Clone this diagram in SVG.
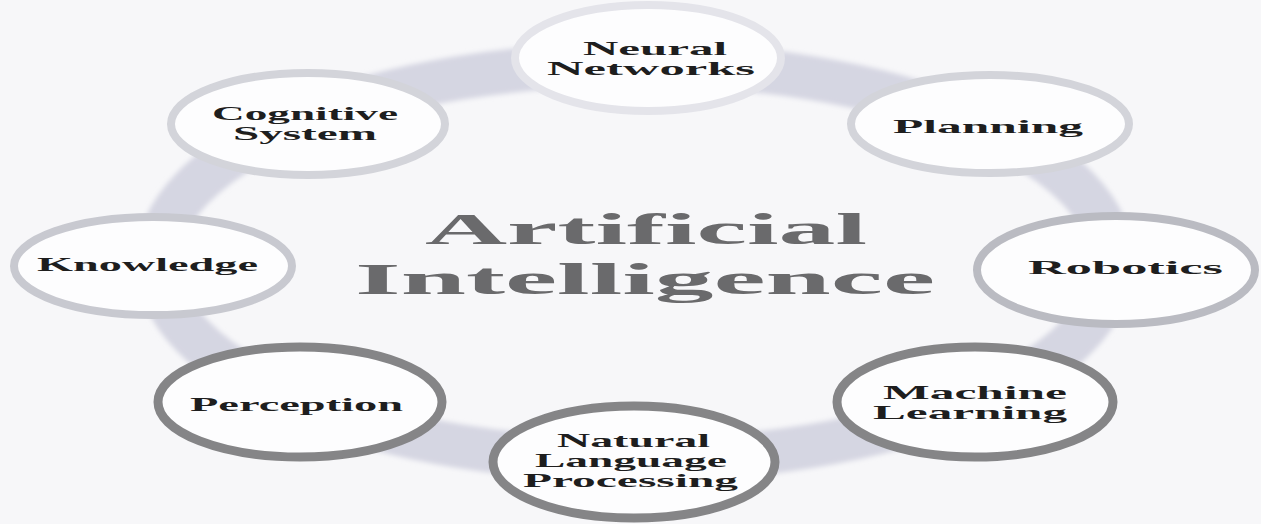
<svg xmlns="http://www.w3.org/2000/svg" width="1261" height="524" viewBox="0 0 1261 524">
  <defs>
    <style>
      .node { fill: #fdfdfe; stroke-width: 8; }
      .light { stroke: #d3d4da; }
      .mid { stroke: #babbc2; }
      .dark { stroke: #858587; stroke-width: 9; }
      .lbl { font-family: "Liberation Serif", "Times New Roman", serif; font-weight: bold; font-size: 19px; fill: #1e1e1e; }
      .title { font-family: "Liberation Serif", "Times New Roman", serif; font-weight: bold; font-size: 45px; fill: #6a6a6c; }
    </style>
    <filter id="soft" x="-10%" y="-10%" width="120%" height="120%">
      <feGaussianBlur stdDeviation="2.5"/>
    </filter>
  </defs>
  <rect x="0" y="0" width="1261" height="524" fill="#f7f7f9"/>
  <g id="connectors">
    <ellipse cx="635" cy="262" rx="477" ry="198" fill="none" stroke="#d5d6e2" stroke-width="44" filter="url(#soft)"/>
  </g>
  <g id="title">
    <text class="title" x="425" y="244" textLength="442" lengthAdjust="spacingAndGlyphs">Artificial</text>
    <text class="title" x="355" y="294" textLength="580" lengthAdjust="spacingAndGlyphs">Intelligence</text>
  </g>
  <g id="neural-networks">
    <ellipse class="node" cx="648" cy="58" rx="133" ry="53" stroke="#e4e4ea"/>
    <text class="lbl" x="583" y="55" textLength="144" lengthAdjust="spacingAndGlyphs">Neural</text>
    <text class="lbl" x="547" y="75" textLength="208" lengthAdjust="spacingAndGlyphs">Networks</text>
  </g>
  <g id="planning">
    <ellipse class="node light" cx="990" cy="124" rx="139" ry="49"/>
    <text class="lbl" x="893" y="133" textLength="190" lengthAdjust="spacingAndGlyphs">Planning</text>
  </g>
  <g id="robotics">
    <ellipse class="node mid" cx="1116" cy="270" rx="139" ry="54"/>
    <text class="lbl" x="1028" y="274" textLength="195" lengthAdjust="spacingAndGlyphs">Robotics</text>
  </g>
  <g id="machine-learning">
    <ellipse class="node dark" cx="975" cy="402" rx="138" ry="55"/>
    <text class="lbl" x="883" y="399" textLength="184" lengthAdjust="spacingAndGlyphs">Machine</text>
    <text class="lbl" x="873" y="419" textLength="194" lengthAdjust="spacingAndGlyphs">Learning</text>
  </g>
  <g id="nlp">
    <ellipse class="node dark" cx="634" cy="462" rx="141" ry="56" stroke="#767678" stroke-width="10"/>
    <text class="lbl" x="557" y="447" textLength="153" lengthAdjust="spacingAndGlyphs">Natural</text>
    <text class="lbl" x="535" y="467" textLength="192" lengthAdjust="spacingAndGlyphs">Language</text>
    <text class="lbl" x="523" y="487" textLength="215" lengthAdjust="spacingAndGlyphs">Processing</text>
  </g>
  <g id="perception">
    <ellipse class="node dark" cx="300" cy="402" rx="142" ry="55"/>
    <text class="lbl" x="190" y="411" textLength="213" lengthAdjust="spacingAndGlyphs">Perception</text>
  </g>
  <g id="knowledge">
    <ellipse class="node" cx="153" cy="266" rx="139" ry="49" stroke="#c8c9d0"/>
    <text class="lbl" x="37" y="271" textLength="221" lengthAdjust="spacingAndGlyphs">Knowledge</text>
  </g>
  <g id="cognitive-system">
    <ellipse class="node light" cx="308" cy="124" rx="137" ry="51"/>
    <text class="lbl" x="212" y="120" textLength="186" lengthAdjust="spacingAndGlyphs">Cognitive</text>
    <text class="lbl" x="233" y="140" textLength="144" lengthAdjust="spacingAndGlyphs">System</text>
  </g>
</svg>
